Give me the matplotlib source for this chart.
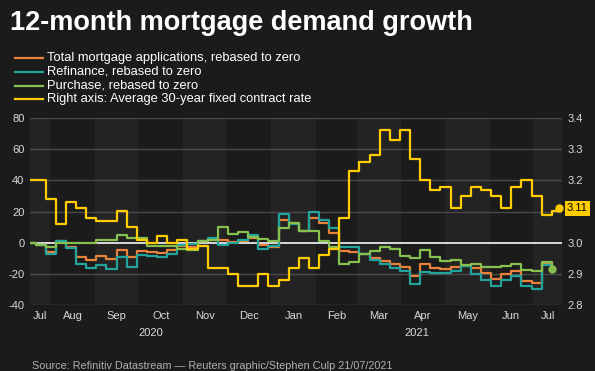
import matplotlib
matplotlib.use("Agg")
import matplotlib.pyplot as plt
import matplotlib.dates as mdates
from matplotlib.lines import Line2D
from matplotlib.transforms import blended_transform_factory
import pandas as pd
import numpy as np

plt.rcParams['font.family'] = ['Liberation Sans', 'DejaVu Sans']

# ---------------- data ----------------
title = "12-month mortgage demand growth"
source = "Source: Refinitiv Datastream \u2014 Reuters graphic/Stephen Culp 21/07/2021"

series_labels = ["Total mortgage applications, rebased to zero",
                 "Refinance, rebased to zero",
                 "Purchase, rebased to zero",
                 "Right axis: Average 30-year fixed contract rate"]

app_dates = pd.date_range("2020-07-15", "2021-07-14", freq="7D")
rate_dates = list(app_dates) + [pd.Timestamp("2021-07-19")]

total = [0, -1.5, -6, 1, -2.6, -9.2, -11.3, -8.8, -10.3, -4.9, -9.2, -5.5, -6.1, -6.8, -4.7, -2.1,
         -2.5, 1, 1.8, 1.4, 0.5, 1.2, 3, -1.6, -2.5, 14.7, 12.4, 7.3, 16, 12.4, 6.2, -5.5, -6.3,
         -7.4, -10, -11.5, -13.6, -15.3, -21.3, -13.8, -16.4, -17, -15.7, -14.7, -16, -19.6, -23.4,
         -20.2, -18.5, -24.5, -26, -13.2, -17]
refinance = [0, -1.5, -7.5, 1.3, -3.6, -14, -16.2, -14.3, -16.8, -9.4, -15.6, -8.2, -8.7, -9, -7.3, -1.8,
             -1, 1.2, 3, -1.3, 0, 1.4, 5, -4, -2.3, 18.4, 12, 7.2, 19.8, 14.8, 9.7, -2.8, -3,
             -7.4, -11, -13.6, -16, -18.5, -26.6, -19, -19.6, -19.6, -18, -14.7, -20.2, -23.8, -27.7,
             -23.8, -21.7, -27.7, -29.6, -14.3, -17]
purchase = [0, -1.5, -3, -0.5, -0.5, 0, 0, 2, 1.7, 5, 3.2, 3.2, -2, -2, -2, -3.8,
            -4.8, 0.8, 1.8, 10.2, 5.6, 6.9, 3.5, 2.3, 0.8, 9.4, 12.8, 7.5, 7.2, 1.2, -3, -13.4, -12.6,
            -7.4, -5.3, -2.8, -4, -8.3, -9.8, -4.9, -9.4, -11.5, -10.9, -14.3, -13.8, -15.7, -15.7,
            -14.7, -14, -17.7, -18.5, -12.1, -17]
rate = [3.20, 3.20, 3.14, 3.06, 3.13, 3.11, 3.08, 3.07, 3.07, 3.10, 3.05, 3.01, 3.00, 3.02, 3.00, 3.01,
        2.98, 2.99, 2.92, 2.92, 2.90, 2.86, 2.86, 2.90, 2.86, 2.88, 2.92, 2.95, 2.92, 2.96, 2.98, 3.08,
        3.23, 3.26, 3.28, 3.36, 3.33, 3.36, 3.27, 3.20, 3.17, 3.18, 3.11, 3.15, 3.18, 3.17, 3.15, 3.11,
        3.18, 3.20, 3.15, 3.09, 3.10, 3.11]

left_ticks = [-40, -20, 0, 20, 40, 60, 80]
right_ticks = [2.8, 2.9, 3.0, 3.1, 3.2, 3.3, 3.4]
# the 3.1 label sits under the last-value tag in the reference
right_tick_labels = ["2.8", "2.9", "3.0", "", "3.2", "3.3", "3.4"]

# ---------------- style ----------------
BG = "#1b1b1b"
BAND = "#232323"
GRID = "#4a4a4a"
TXT = "#d9d9d9"
C_TOTAL = "#e8823a"
C_REFI = "#22a49c"
C_PURCH = "#86c04f"
C_RATE = "#ffcc00"

W, H = 595, 371
fig = plt.figure(figsize=(W / 100, H / 100), dpi=100, facecolor=BG)

ax_left, ax_right, ax_top, ax_bot = 30, 562, 118, 305
ax = fig.add_axes([ax_left / W, 1 - ax_bot / H, (ax_right - ax_left) / W, (ax_bot - ax_top) / H])
ax.set_facecolor(BG)
ax2 = ax.twinx()
ax2.patch.set_visible(False)

xl = mdates.date2num(pd.Timestamp("2020-07-18 02:00"))
xr = mdates.date2num(pd.Timestamp("2021-07-21 02:00"))
ax.set_xlim(xl, xr)
ax.set_ylim(-40, 80)
ax2.set_ylim(2.8, 3.4)

# month bands + labels
months = pd.date_range("2020-07-01", "2021-08-01", freq="MS")
trans = blended_transform_factory(ax.transData, ax.transAxes)
for i in range(len(months) - 1):
    a = max(mdates.date2num(months[i]), xl)
    b = min(mdates.date2num(months[i + 1]), xr)
    if b <= a:
        continue
    if i % 2 == 0:
        ax.axvspan(a, b, color=BAND, lw=0, zorder=0)
    ax.text((a + b) / 2, -11 / (ax_bot - ax_top), months[i].strftime("%b"), transform=trans,
            ha="center", va="center", color=TXT, fontsize=8)

for yr in [2020, 2021]:
    a = max(mdates.date2num(pd.Timestamp(f"{yr}-01-01")), xl)
    b = min(mdates.date2num(pd.Timestamp(f"{yr + 1}-01-01")), xr)
    ax.text((a + b) / 2, -28 / (ax_bot - ax_top), str(yr), transform=trans,
            ha="center", va="center", color=TXT, fontsize=8)

# grid
for t in left_ticks:
    if t == 0:
        ax.axhline(t, color="#e8e8e8", lw=1.3, zorder=1)
    else:
        ax.axhline(t, color=GRID, lw=1.0, zorder=1)

ax.set_xticks([])
ax.set_yticks(left_ticks)
ax.set_yticklabels([str(t) for t in left_ticks])
ax.tick_params(axis="y", length=0, pad=4, colors=TXT, labelsize=8)
ax2.set_yticks(right_ticks)
ax2.set_yticklabels(right_tick_labels)
ax2.tick_params(axis="y", length=0, pad=4, colors=TXT, labelsize=8)
for a_ in (ax, ax2):
    for s in a_.spines.values():
        s.set_visible(False)

# lines
ax.plot(app_dates, total, color=C_TOTAL, lw=1.6, drawstyle="steps-post", zorder=3)
ax.plot(app_dates, refinance, color=C_REFI, lw=1.6, drawstyle="steps-post", zorder=3)
ax.plot(app_dates, purchase, color=C_PURCH, lw=1.6, drawstyle="steps-post", zorder=3)
ax.plot([app_dates[-1]], [purchase[-1]], "o", color=C_PURCH, ms=5, zorder=4, clip_on=False)

ax2.plot(rate_dates, rate, color=C_RATE, lw=1.6, drawstyle="steps-post", zorder=3)
ax2.plot([rate_dates[-1]], [rate[-1]], "o", color=C_RATE, ms=5, zorder=4, clip_on=False)
ax2.annotate(f"{rate[-1]:.2f}", xy=(1, rate[-1]), xycoords=("axes fraction", "data"),
             xytext=(3.5, 0), textcoords="offset points", ha="left", va="center",
             fontsize=8, color="black", zorder=10, annotation_clip=False,
             bbox=dict(boxstyle="square,pad=0.2", fc=C_RATE, ec="none"))

# title
fig.text(10 / W, 1 - 30.5 / H, title, fontsize=19.5, weight="bold", color="white", va="baseline")

# legend (manual)
leg_y = [58.3, 71.7, 86, 99.3]
for lab, col, yy in zip(series_labels, [C_TOTAL, C_REFI, C_PURCH, C_RATE], leg_y):
    fig.add_artist(Line2D([15 / W, 42.5 / W], [1 - yy / H, 1 - yy / H], color=col, lw=1.6))
    fig.text(47 / W, 1 - yy / H, lab, fontsize=9.3, color="white", va="center")

fig.text(32 / W, 1 - 366 / H, source, fontsize=7.8, color="#b0b0b0", va="center")

fig.savefig("out.png", dpi=100, facecolor=BG)
